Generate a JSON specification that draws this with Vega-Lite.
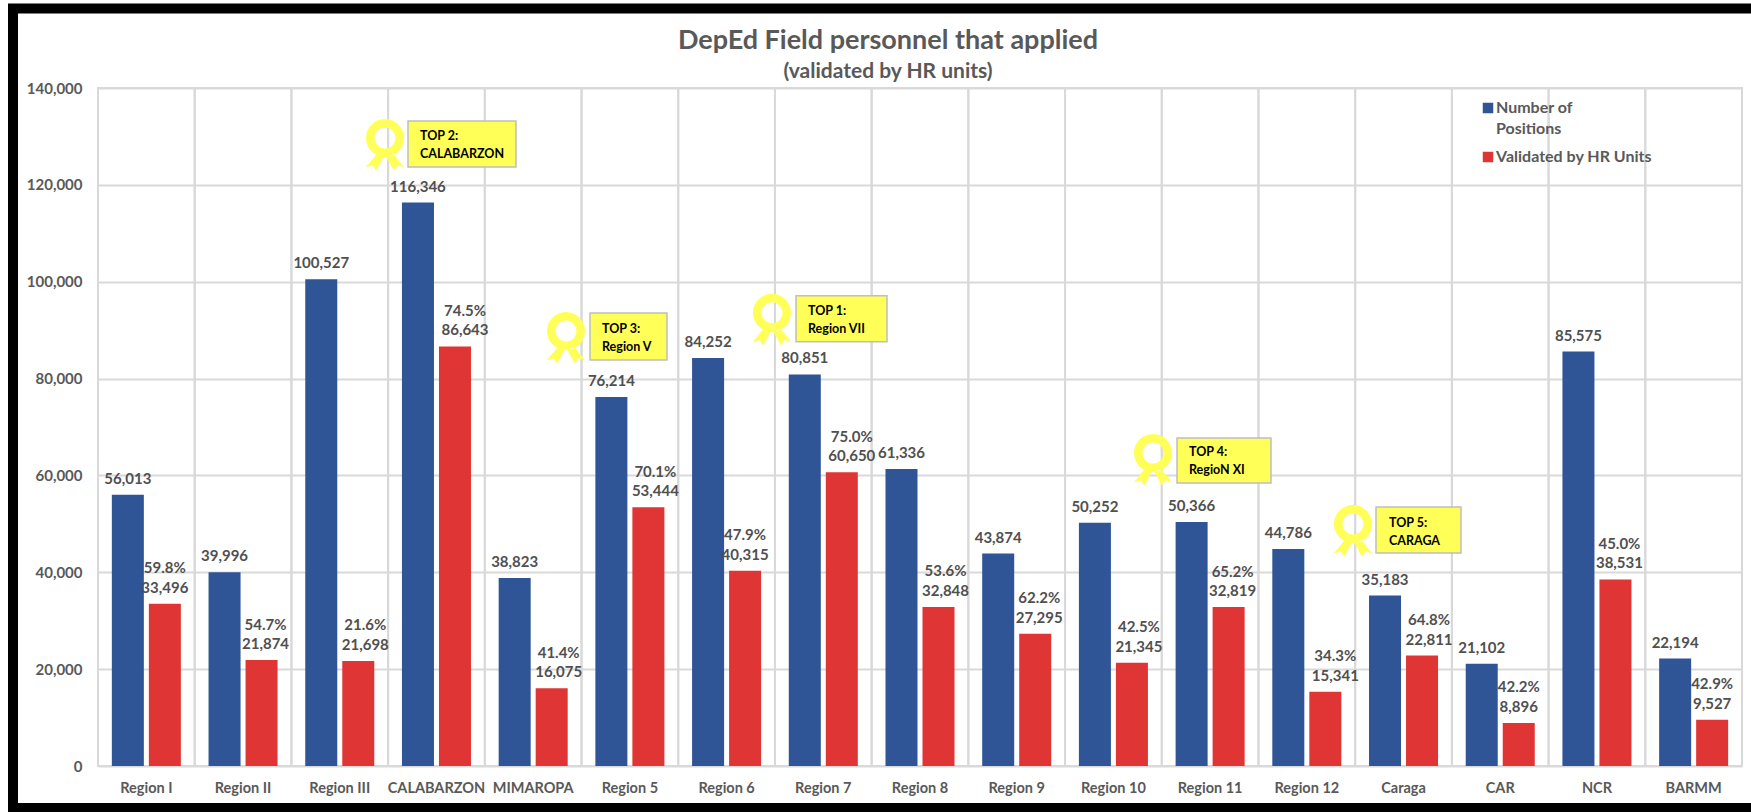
{
"$schema":"https://vega.github.io/schema/vega-lite/v6.json",
"width":1644,"height":678,
"autosize":{"type":"none"},
"padding":{"left":98,"top":88,"right":9,"bottom":46},
"background":"white",
"title":{"text":"DepEd Field personnel that applied","subtitle":"(validated by HR units)","anchor":"middle","frame":"group","dx":-32,"offset":-80,"font":"Lato","fontWeight":"bold","fontSize":27,"color":"#595959","subtitleFont":"Lato","subtitleFontWeight":"bold","subtitleFontSize":21,"subtitleColor":"#595959","subtitlePadding":6},
"config":{"font":"Lato","numberFormat":",","view":{"stroke":"#d9d9d9","strokeWidth":2}},
"datasets":{
"bars":[
{"region":"Region I","series":"Number of Positions","value":56013},
{"region":"Region I","series":"Validated by HR Units","value":33496,"pct":"59.8%"},
{"region":"Region II","series":"Number of Positions","value":39996},
{"region":"Region II","series":"Validated by HR Units","value":21874,"pct":"54.7%"},
{"region":"Region III","series":"Number of Positions","value":100527},
{"region":"Region III","series":"Validated by HR Units","value":21698,"pct":"21.6%"},
{"region":"CALABARZON","series":"Number of Positions","value":116346},
{"region":"CALABARZON","series":"Validated by HR Units","value":86643,"pct":"74.5%"},
{"region":"MIMAROPA","series":"Number of Positions","value":38823},
{"region":"MIMAROPA","series":"Validated by HR Units","value":16075,"pct":"41.4%"},
{"region":"Region 5","series":"Number of Positions","value":76214},
{"region":"Region 5","series":"Validated by HR Units","value":53444,"pct":"70.1%"},
{"region":"Region 6","series":"Number of Positions","value":84252},
{"region":"Region 6","series":"Validated by HR Units","value":40315,"pct":"47.9%"},
{"region":"Region 7","series":"Number of Positions","value":80851},
{"region":"Region 7","series":"Validated by HR Units","value":60650,"pct":"75.0%"},
{"region":"Region 8","series":"Number of Positions","value":61336},
{"region":"Region 8","series":"Validated by HR Units","value":32848,"pct":"53.6%"},
{"region":"Region 9","series":"Number of Positions","value":43874},
{"region":"Region 9","series":"Validated by HR Units","value":27295,"pct":"62.2%"},
{"region":"Region 10","series":"Number of Positions","value":50252},
{"region":"Region 10","series":"Validated by HR Units","value":21345,"pct":"42.5%"},
{"region":"Region 11","series":"Number of Positions","value":50366},
{"region":"Region 11","series":"Validated by HR Units","value":32819,"pct":"65.2%"},
{"region":"Region 12","series":"Number of Positions","value":44786},
{"region":"Region 12","series":"Validated by HR Units","value":15341,"pct":"34.3%"},
{"region":"Caraga","series":"Number of Positions","value":35183},
{"region":"Caraga","series":"Validated by HR Units","value":22811,"pct":"64.8%"},
{"region":"CAR","series":"Number of Positions","value":21102},
{"region":"CAR","series":"Validated by HR Units","value":8896,"pct":"42.2%"},
{"region":"NCR","series":"Number of Positions","value":85575},
{"region":"NCR","series":"Validated by HR Units","value":38531,"pct":"45.0%"},
{"region":"BARMM","series":"Number of Positions","value":22194},
{"region":"BARMM","series":"Validated by HR Units","value":9527,"pct":"42.9%"}
],
"callouts":[
{"line1":"TOP 2:","line2":"CALABARZON","bx":310,"bx2":418,"by":133186,"by2":123688,"rx":287,"ry":129676,"tx":322,"ty1":130089,"ty2":126372},
{"line1":"TOP 3:","line2":"Region V","bx":492,"bx2":569,"by":93540,"by2":83835,"rx":468,"ry":89823,"tx":504,"ty1":90236,"ty2":86519},
{"line1":"TOP 1:","line2":"Region VII","bx":698,"bx2":789,"by":97118,"by2":87620,"rx":674,"ry":93607,"tx":710,"ty1":93953,"ty2":90236},
{"line1":"TOP 4:","line2":"RegioN XI","bx":1079,"bx2":1173,"by":67729,"by2":58437,"rx":1055,"ry":64631,"tx":1091,"ty1":64838,"ty2":61121},
{"line1":"TOP 5:","line2":"CARAGA","bx":1278,"bx2":1363,"by":53481,"by2":43982,"rx":1255,"ry":49971,"tx":1291,"ty1":50177,"ty2":46460}
],
"frame":[{"x":-85,"x2":1672,"y":156416,"y2":-8672}]
},
"data":{"name":"bars"},
"resolve":{"scale":{"x":"independent"}},
"layer":[
{"mark":{"type":"rule","color":"#d9d9d9","strokeWidth":2},
 "encoding":{"x":{"field":"region","type":"nominal","sort":null,"bandPosition":0,
   "scale":{"type":"band","paddingInner":0,"paddingOuter":0},
   "axis":{"title":null,"domain":false,"ticks":false,"grid":false,"labelAngle":0,"labelPadding":22,"labelFont":"Lato","labelFontWeight":"bold","labelFontSize":14.5,"labelColor":"#595959","labelBaseline":"middle","labelBound":false,"labelOverlap":false,"bandPosition":0.5}}}},
{"mark":{"type":"bar"},
 "encoding":{
  "x":{"field":"region","type":"nominal","sort":null,"scale":{"type":"band","paddingInner":0,"paddingOuter":0},"axis":null},
  "xOffset":{"field":"series","type":"nominal","sort":["Number of Positions","Validated by HR Units"],"scale":{"paddingInner":0.135,"paddingOuter":0.374}},
  "y":{"field":"value","type":"quantitative","scale":{"domain":[0,140000],"nice":false},
   "axis":{"title":null,"values":[0,20000,40000,60000,80000,100000,120000,140000],"format":",","labelExpr":"format(datum.value,',')","domain":false,"ticks":false,"grid":true,"gridColor":"#d9d9d9","gridWidth":2,"labelPadding":16,"labelFont":"Lato","labelFontWeight":"bold","labelFontSize":15,"labelColor":"#595959"}},
  "color":{"field":"series","type":"nominal","title":null,
   "scale":{"domain":["Number of Positions","Validated by HR Units"],"range":["#2f5597","#e03535"]},
   "legend":{"orient":"none","legendX":1382,"legendY":12,"symbolType":"square","symbolSize":110,"labelFont":"Lato","labelFontWeight":"bold","labelFontSize":16,"labelColor":"#595959","labelLimit":300,"rowPadding":12,"labelOffset":0,"labelExpr":"datum.label == 'Number of Positions' ? ['Number of','Positions'] : datum.label","encode":{"labels":{"update":{"lineHeight":{"value":21}}}}}}
 }},
{"transform":[{"filter":{"field":"series","equal":"Number of Positions"}}],
 "mark":{"type":"text","baseline":"alphabetic","dy":-11,"font":"Lato","fontWeight":"bold","fontSize":15,"color":"#505050"},
 "encoding":{
  "x":{"field":"region","type":"nominal","sort":null,"scale":{"type":"band","paddingInner":0,"paddingOuter":0},"axis":null},
  "xOffset":{"field":"series","type":"nominal","scale":{"domain":["Number of Positions","Validated by HR Units"],"paddingInner":0.135,"paddingOuter":0.374}},
  "y":{"field":"value","type":"quantitative"},
  "text":{"field":"value","type":"quantitative","format":","}
 }},
{"transform":[{"filter":{"field":"region","oneOf":["Region I","Region 6","CAR","BARMM"]}},{"filter":{"field":"series","equal":"Validated by HR Units"}}],
 "encoding":{
  "x":{"field":"region","type":"nominal","scale":{"type":"band","domain":["Region I","Region II","Region III","CALABARZON","MIMAROPA","Region 5","Region 6","Region 7","Region 8","Region 9","Region 10","Region 11","Region 12","Caraga","CAR","NCR","BARMM"],"paddingInner":0,"paddingOuter":0},"axis":null},
  "xOffset":{"field":"series","type":"nominal","scale":{"domain":["Number of Positions","Validated by HR Units"],"paddingInner":0.135,"paddingOuter":0.374}},
  "y":{"field":"value","type":"quantitative"}},
 "layer":[
 {"mark":{"type":"text","baseline":"alphabetic","dy":-11,"font":"Lato","fontWeight":"bold","fontSize":15,"color":"#505050"},"encoding":{"text":{"field":"value","type":"quantitative","format":","}}},
 {"mark":{"type":"text","baseline":"alphabetic","dy":-30.5,"font":"Lato","fontWeight":"bold","fontSize":15,"color":"#505050"},"encoding":{"text":{"field":"pct","type":"nominal"}}}
 ]},
{"transform":[{"filter":{"field":"region","oneOf":["Region II","Region 9","Region 11","NCR"]}},{"filter":{"field":"series","equal":"Validated by HR Units"}}],
 "encoding":{
  "x":{"field":"region","type":"nominal","scale":{"type":"band","domain":["Region I","Region II","Region III","CALABARZON","MIMAROPA","Region 5","Region 6","Region 7","Region 8","Region 9","Region 10","Region 11","Region 12","Caraga","CAR","NCR","BARMM"],"paddingInner":0,"paddingOuter":0},"axis":null},
  "xOffset":{"field":"series","type":"nominal","scale":{"domain":["Number of Positions","Validated by HR Units"],"paddingInner":0.135,"paddingOuter":0.374}},
  "y":{"field":"value","type":"quantitative"}},
 "layer":[
 {"mark":{"type":"text","baseline":"alphabetic","dx":4,"dy":-11,"font":"Lato","fontWeight":"bold","fontSize":15,"color":"#505050"},"encoding":{"text":{"field":"value","type":"quantitative","format":","}}},
 {"mark":{"type":"text","baseline":"alphabetic","dx":4,"dy":-30.5,"font":"Lato","fontWeight":"bold","fontSize":15,"color":"#505050"},"encoding":{"text":{"field":"pct","type":"nominal"}}}
 ]},
{"transform":[{"filter":{"field":"region","oneOf":["Region III","MIMAROPA","Region 5","Region 8","Region 10","Caraga"]}},{"filter":{"field":"series","equal":"Validated by HR Units"}}],
 "encoding":{
  "x":{"field":"region","type":"nominal","scale":{"type":"band","domain":["Region I","Region II","Region III","CALABARZON","MIMAROPA","Region 5","Region 6","Region 7","Region 8","Region 9","Region 10","Region 11","Region 12","Caraga","CAR","NCR","BARMM"],"paddingInner":0,"paddingOuter":0},"axis":null},
  "xOffset":{"field":"series","type":"nominal","scale":{"domain":["Number of Positions","Validated by HR Units"],"paddingInner":0.135,"paddingOuter":0.374}},
  "y":{"field":"value","type":"quantitative"}},
 "layer":[
 {"mark":{"type":"text","baseline":"alphabetic","dx":7,"dy":-11,"font":"Lato","fontWeight":"bold","fontSize":15,"color":"#505050"},"encoding":{"text":{"field":"value","type":"quantitative","format":","}}},
 {"mark":{"type":"text","baseline":"alphabetic","dx":7,"dy":-30.5,"font":"Lato","fontWeight":"bold","fontSize":15,"color":"#505050"},"encoding":{"text":{"field":"pct","type":"nominal"}}}
 ]},
{"transform":[{"filter":{"field":"region","oneOf":["CALABARZON","Region 7","Region 12"]}},{"filter":{"field":"series","equal":"Validated by HR Units"}}],
 "encoding":{
  "x":{"field":"region","type":"nominal","scale":{"type":"band","domain":["Region I","Region II","Region III","CALABARZON","MIMAROPA","Region 5","Region 6","Region 7","Region 8","Region 9","Region 10","Region 11","Region 12","Caraga","CAR","NCR","BARMM"],"paddingInner":0,"paddingOuter":0},"axis":null},
  "xOffset":{"field":"series","type":"nominal","scale":{"domain":["Number of Positions","Validated by HR Units"],"paddingInner":0.135,"paddingOuter":0.374}},
  "y":{"field":"value","type":"quantitative"}},
 "layer":[
 {"mark":{"type":"text","baseline":"alphabetic","dx":10,"dy":-11,"font":"Lato","fontWeight":"bold","fontSize":15,"color":"#505050"},"encoding":{"text":{"field":"value","type":"quantitative","format":","}}},
 {"mark":{"type":"text","baseline":"alphabetic","dx":10,"dy":-30.5,"font":"Lato","fontWeight":"bold","fontSize":15,"color":"#505050"},"encoding":{"text":{"field":"pct","type":"nominal"}}}
 ]},
{"data":{"name":"callouts"},
 "layer":[
 {"mark":{"type":"rect","fill":"#ffff57","stroke":"#bfbfbf","strokeWidth":1.5},
  "encoding":{"x":{"field":"bx","type":"quantitative","scale":{"domain":[0,1644],"nice":false,"zero":false},"axis":null},"x2":{"field":"bx2"},"y":{"field":"by","type":"quantitative"},"y2":{"field":"by2"}}},
 {"mark":{"type":"point","filled":true,"size":1444,"color":"#ffff57","opacity":1,"shape":"M 0 -1 A 1 1 0 1 1 0 1 A 1 1 0 1 1 0 -1 Z M 0 -0.55 A 0.55 0.55 0 1 0 0 0.55 A 0.55 0.55 0 1 0 0 -0.55 Z M -0.44 0.85 L -0.07 1 L -0.47 1.73 L -0.65 1.44 L -1.02 1.55 Z M 0.44 0.85 L 0.07 1 L 0.47 1.73 L 0.65 1.44 L 1.02 1.55 Z"},
  "encoding":{"x":{"field":"rx","type":"quantitative","axis":null},"y":{"field":"ry","type":"quantitative"}}},
 {"mark":{"type":"text","align":"left","baseline":"middle","font":"Lato","fontWeight":"bold","fontSize":12.5,"color":"#000000"},
  "encoding":{"x":{"field":"tx","type":"quantitative","axis":null},"y":{"field":"ty1","type":"quantitative"},"text":{"field":"line1"}}},
 {"mark":{"type":"text","align":"left","baseline":"middle","font":"Lato","fontWeight":"bold","fontSize":12.5,"color":"#000000"},
  "encoding":{"x":{"field":"tx","type":"quantitative","axis":null},"y":{"field":"ty2","type":"quantitative"},"text":{"field":"line2"}}}
 ]},
{"data":{"name":"frame"},
 "mark":{"type":"rect","fill":null,"stroke":"#000000","strokeWidth":10},
 "encoding":{"x":{"field":"x","type":"quantitative","scale":{"domain":[0,1644],"nice":false,"zero":false},"axis":null},"x2":{"field":"x2"},"y":{"field":"y","type":"quantitative"},"y2":{"field":"y2"}}}
]
}
